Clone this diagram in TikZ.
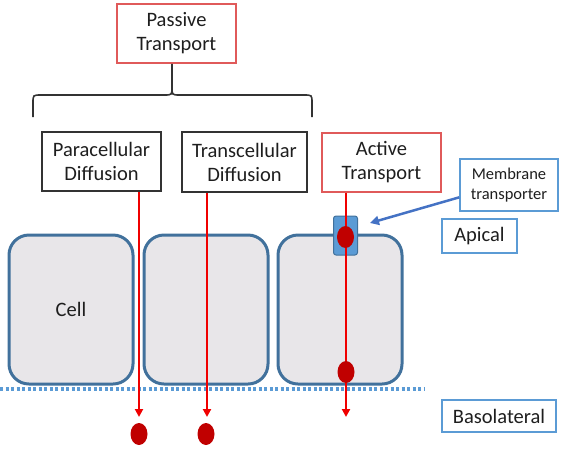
\documentclass[tikz,border=0pt]{standalone}
\usepackage{fontspec}
\setmainfont{Carlito}
\usetikzlibrary{arrows.meta,shapes.geometric,calc}
\definecolor{txt}{HTML}{1E1E1E}
\definecolor{boxred}{HTML}{E05A5A}
\definecolor{boxblue}{HTML}{5B9BD5}
\definecolor{cellfill}{HTML}{E8E6E9}
\definecolor{celledge}{HTML}{41719C}
\definecolor{arrred}{HTML}{F00000}
\definecolor{dotred}{HTML}{C00000}
\definecolor{pointer}{HTML}{4472C4}
\begin{document}
\begin{tikzpicture}[x=1pt,y=-1pt,
  lbl/.style={draw, line width=1.6pt, align=center, inner sep=0pt, text=txt, font=\fontsize{20.5}{24}\selectfont},
  blackbox/.style={lbl, draw=black!80},
  redbox/.style={lbl, draw=boxred},
  bluebox/.style={lbl, draw=boxblue},
  cellbox/.style={draw=celledge, fill=cellfill, line width=3pt, rounded corners=20pt, inner sep=0pt, minimum width=124pt, minimum height=149pt, text=txt, font=\fontsize{20.5}{24}\selectfont},
  redline/.style={draw=arrred, line width=2pt},
  redarrow/.style={redline, -{Triangle[width=8pt,length=8pt]}},
  dot/.style={ellipse, fill=dotred, inner sep=0pt, minimum width=17pt, minimum height=22pt},
]
\useasboundingbox (0,0) rectangle (564,451);

% label boxes
\node[redbox, minimum width=119pt, minimum height=59pt] (passive) at (176.5,33.5) {Passive\\Transport};
\node[blackbox, minimum width=119pt, minimum height=59pt] (para) at (101.5,161.5) {Paracellular\\Diffusion};
\node[blackbox, minimum width=125pt, minimum height=60pt] (trans) at (244.5,162) {Transcellular\\Diffusion};
\node[redbox, minimum width=119pt, minimum height=59pt] (active) at (381.5,162.5) {Active\\Transport};
\node[bluebox, minimum width=98pt, minimum height=52pt, font=\fontsize{16.5}{20}\selectfont] (memb) at (509,185) {Membrane\\transporter};
\node[bluebox, minimum width=75pt, minimum height=34pt] (apical) at (479.5,236) {Apical};
\node[bluebox, minimum width=114pt, minimum height=32pt] (baso) at (499,416) {Basolateral};

% brace
\coordinate (tip) at (172,87);
\draw[line width=1.6pt, draw=black!80, line join=round]
  (33,117) -- (33,103) .. controls (33,95) .. (41,95) -- (164,95)
  .. controls (172,95) .. (tip) -- (passive.south -| tip);
\draw[line width=1.6pt, draw=black!80, line join=round]
  (tip) .. controls (172,95) .. (180,95) -- (304,95)
  .. controls (312,95) .. (312,103) -- (312,117);

% cells
\node[cellbox] (cell1) at (71,309.5) {Cell};
\node[cellbox] (cell2) at (206,309.5) {};
\node[cellbox] (cell3) at (340,309.5) {};

% basolateral dotted boundary
\coordinate (dl) at (0,389);
\coordinate (dr) at (424,389);
\draw[draw=boxblue, line width=3.2pt, dash pattern=on 3pt off 2.5pt] (dl) -- (dr);

% membrane transporter
\node[draw=celledge, fill=boxblue, line width=1pt, rounded corners=2.5pt, minimum width=24pt, minimum height=39pt, inner sep=0pt] (tr) at (345.5,235.5) {};

% red transport arrows
\coordinate (e1) at (139,417);
\coordinate (e2) at (207,417);
\coordinate (e3) at (346,417);
\draw[redarrow] (para.south -| e1) -- (e1);
\draw[redarrow] (trans.south -| e2) -- (e2);
\draw[redarrow] (active.south -| e3) -- (e3);

% molecules
\node[dot] (m1) at (139,434) {};
\node[dot] (m2) at (206,434) {};
\node[dot] (m3) at (345.5,237) {};
\node[dot] (m4) at (346,372) {};

% pointer to the transporter
\coordinate (ptip) at (370,223);
\draw[draw=pointer, line width=2.5pt, -{Triangle[width=9pt,length=9pt]}]
  ($(memb.south west)!0.27!(memb.north west)$) -- (ptip);
\end{tikzpicture}
\end{document}
